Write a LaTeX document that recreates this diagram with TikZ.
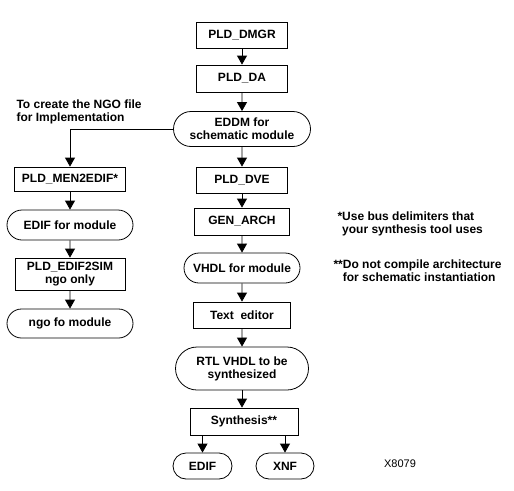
\documentclass[tikz,border=0pt]{standalone}
\usepackage{fontspec}
\setmainfont{Liberation Sans}
\usetikzlibrary{arrows.meta,shapes.misc}

\begin{document}
\begin{tikzpicture}[x=1pt, y=-1pt,
		txt/.style={font=\fontsize{12}{13}\selectfont\bfseries},
		boxnode/.style={txt, draw, line width=0.8pt, rectangle, align=center, inner sep=0pt},
		roundnode/.style={txt, draw, line width=0.8pt, rounded rectangle, align=center, inner sep=0pt},
		arr/.style={line width=0.8pt, -{Triangle[width=10pt, length=9pt]}}]
		%%%%% START %%%%%
		
		\useasboundingbox (0, 0) rectangle (514, 490);
		
		% main column
		\node[boxnode, minimum width=91pt, minimum height=26pt] (dmgr) at (242, 35) {PLD\_DMGR};
		\node[boxnode, minimum width=91pt, minimum height=27pt] (da) at (242, 78.5) {PLD\_DA};
		\node[roundnode, minimum width=137pt, minimum height=35pt] (eddm) at (242, 129) {EDDM for\\schematic module};
		\node[boxnode, minimum width=91pt, minimum height=26pt] (dve) at (242, 180) {PLD\_DVE};
		\node[boxnode, minimum width=95pt, minimum height=27pt] (gen) at (242, 221.5) {GEN\_ARCH};
		\node[roundnode, minimum width=116pt, minimum height=30pt] (vhdl) at (242, 268) {VHDL for module};
		\node[boxnode, minimum width=97pt, minimum height=26pt] (edit) at (242, 315) {Text~ editor};
		\node[roundnode, minimum width=133pt, minimum height=43pt] (rtl) at (242, 368.5) {RTL VHDL to be\\synthesized};
		\node[boxnode, minimum width=108pt, minimum height=27pt] (syn) at (244, 421.5) {Synthesis**};
		\node[roundnode, minimum width=59pt, minimum height=26pt] (edif) at (202.5, 466) {EDIF};
		\node[roundnode, minimum width=58pt, minimum height=26pt] (xnf) at (285, 466) {XNF};
		
		% left column
		\node[txt, align=left, anchor=north west] (ngotxt) at (13, 96) {To create the NGO file\\for Implementation};
		\node[boxnode, minimum width=111pt, minimum height=24pt] (men) at (70, 179) {PLD\_MEN2EDIF*};
		\node[roundnode, minimum width=126pt, minimum height=30pt] (edifm) at (70, 225) {EDIF for module};
		\node[boxnode, minimum width=110pt, minimum height=32pt] (e2sim) at (70, 274) {PLD\_EDIF2SIM\\ngo only};
		\node[roundnode, minimum width=126pt, minimum height=29pt] (ngo) at (70, 323.5) {ngo fo module};
		
		% notes
		\node[txt, align=left, anchor=north west] (note1) at (334, 208) {*Use bus delimiters that\\\phantom{*}your synthesis tool uses};
		\node[txt, align=left, anchor=north west] (note2) at (330, 256) {**Do not compile architecture\\\phantom{**}for schematic instantiation};
		\node[font=\fontsize{11}{12}\selectfont] (fig) at (400, 464) {X8079};
		
		% connectors
		\draw[arr] (dmgr) -- (da);
		\draw[arr] (da) -- (eddm);
		\draw[arr] (eddm) -- (dve);
		\draw[arr] (dve) -- (gen);
		\draw[arr] (gen) -- (vhdl);
		\draw[arr] (vhdl) -- (edit);
		\draw[arr] (edit) -- (rtl);
		\draw[arr] (rtl.south) -- (rtl.south |- syn.north);
		\draw[arr] (edif.north |- syn.south) -- (edif.north);
		\draw[arr] (xnf.north |- syn.south) -- (xnf.north);
		
		\draw[arr] (eddm.west) -| (men.north);
		\draw[arr] (men) -- (edifm);
		\draw[arr] (edifm) -- (e2sim);
		\draw[arr] (e2sim) -- (ngo);
		
		%%%%% END %%%%%
\end{tikzpicture}
\end{document}
